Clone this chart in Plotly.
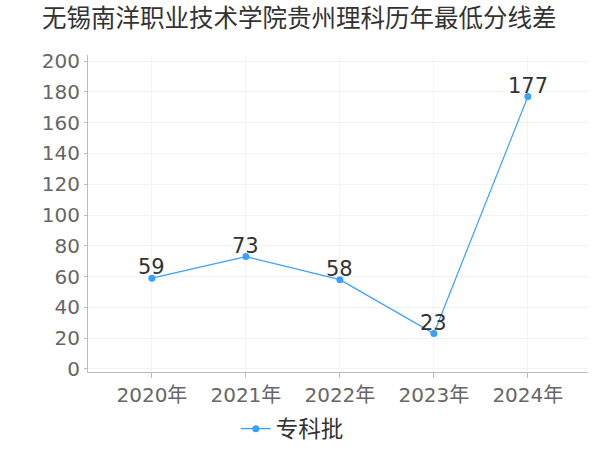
import plotly.graph_objects as go

years = ["2020年", "2021年", "2022年", "2023年", "2024年"]
values = [59, 73, 58, 23, 177]
series_name = "专科批"
title = "无锡南洋职业技术学院贵州理科历年最低分线差"

FONT = "DejaVu Sans, Noto Sans CJK SC, sans-serif"
CJK = "Noto Sans CJK SC, sans-serif"
COLOR = "#3aa0ff"

fig = go.Figure()
fig.add_trace(go.Scatter(
    x=years, y=values, name=series_name,
    mode="lines+markers",
    line=dict(color=COLOR, width=1.2),
    marker=dict(color=COLOR, size=7),
))
for yr, v in zip(years, values):
    fig.add_annotation(x=yr, y=v, text=str(v), showarrow=False,
                       yanchor="bottom", yshift=-3,
                       font=dict(size=21, color="#333333", family=FONT))

fig.update_layout(
    width=600, height=450,
    paper_bgcolor="white", plot_bgcolor="white",
    font=dict(family=FONT),
    title=dict(text=title, x=42/600, xanchor="left", xref="container",
               y=1 - 18/450, yanchor="middle", yref="container",
               font=dict(size=24.5, color="#333333", family=CJK)),
    margin=dict(l=88, r=12, t=55, b=78, autoexpand=False),
    showlegend=True,
    legend=dict(orientation="h", xref="container", x=0.393, xanchor="left",
                yref="container", y=1 - 429/450, yanchor="middle",
                font=dict(size=22.5, color="#333333", family=CJK)),
)
fig.update_xaxes(
    range=[-0.68, 4.64], showline=True, linecolor="#bbbbbb", linewidth=1,
    ticks="outside", tickcolor="#bbbbbb", ticklen=5, automargin=False,
    showgrid=True, gridcolor="#f4f4f4",
    tickfont=dict(size=20, color="#666666"),
)
fig.update_yaxes(
    range=[-2, 204], tickvals=list(range(0, 201, 20)),
    showline=True, linecolor="#bbbbbb", linewidth=1, automargin=False,
    ticks="outside", tickcolor="#bbbbbb", ticklen=3,
    showgrid=True, gridcolor="#f2f2f2", zeroline=False,
    tickfont=dict(size=20, color="#666666"),
)
fig.write_html("out.html", config={"displayModeBar": False},
               post_script="document.body.style.margin='0px';document.body.style.padding='0px';")
